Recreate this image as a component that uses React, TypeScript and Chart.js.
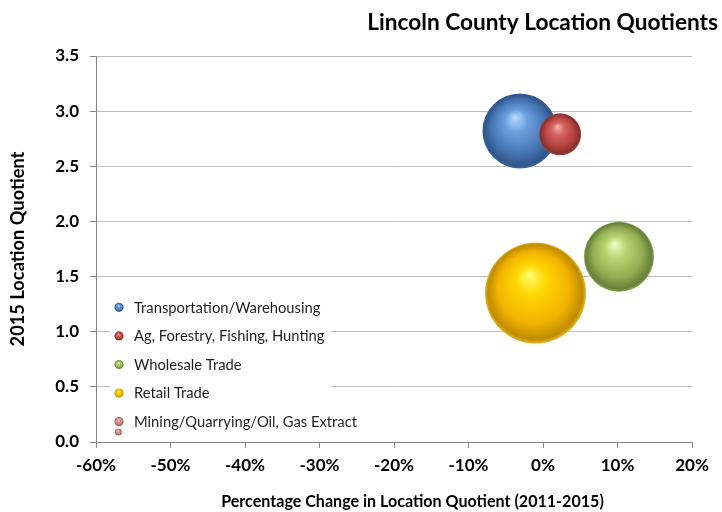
import React, { useEffect, useRef } from "react";
import { Chart, registerables } from "chart.js";

Chart.register(...registerables);

// ---------- data ----------
const SERIES_LABELS = [
  "Transportation/Warehousing",
  "Ag, Forestry, Fishing, Hunting",
  "Wholesale Trade",
  "Retail Trade",
  "Mining/Quarrying/Oil, Gas Extract",
];
const PCT_CHANGE = [-3.1, 2.3, 10.2, -1.0, -57.0]; // % change in LQ 2011-2015
const LQ_2015 = [2.82, 2.79, 1.68, 1.35, 0.09];
const EMPLOYMENT = [281, 88, 245, 510, 2.5]; // bubble size values

const X_MIN = -60;
const X_MAX = 20;
const X_STEP = 10;
const Y_MIN = 0;
const Y_MAX = 3.5;
const Y_STEP = 0.5;

const TITLE = "Lincoln County Location Quotients";
const X_TITLE = "Percentage Change in Location Quotient (2011-2015)";
const Y_TITLE = "2015 Location Quotient";

// ---------- styles ----------
const FONT = "Lato, 'Open Sans', 'DejaVu Sans', sans-serif";
const MAX_R = 50.5;
// highlight, light, base, dark, rim
const PALETTES = [
  ["#b7ddff", "#6ca0dc", "#4677b5", "#31568a", "#3d68a0"],
  ["#f9b4b0", "#d6635f", "#b4423f", "#86302d", "#a04845"],
  ["#eeffc8", "#b9d675", "#93ae52", "#66803a", "#8aa450"],
  ["#ffff70", "#ffd600", "#f2b400", "#c08c00", "#e8b428"],
  ["#f7d0cf", "#dca2a0", "#c47f7d", "#9a5a58", "#b87573"],
];

function sphere(ctx: CanvasRenderingContext2D, cx: number, cy: number, r: number, pal: string[]) {
  const rr = Math.max(r, 0.5);
  const g = ctx.createRadialGradient(cx - rr * 0.13, cy - rr * 0.37, 0, cx, cy, rr);
  g.addColorStop(0, pal[0]);
  g.addColorStop(0.3, pal[1]);
  g.addColorStop(0.7, pal[2]);
  g.addColorStop(0.94, pal[3]);
  g.addColorStop(1, pal[4]);
  return g;
}

function fitFont(ctx: CanvasRenderingContext2D, text: string, weight: string, width: number) {
  ctx.font = `${weight} 100px ${FONT}`;
  const w = ctx.measureText(text).width;
  return (100 * width) / w;
}

const decorPlugin = {
  id: "decor",
  beforeDatasetsDraw(chart: any) {
    const ctx: CanvasRenderingContext2D = chart.ctx;
    ctx.save();
    // legend box
    ctx.fillStyle = "#ffffff";
    ctx.fillRect(110, 291, 221, 137);
    const longest = SERIES_LABELS.reduce((a, b) => (a.length > b.length ? a : b));
    const size = fitFont(ctx, longest, "400", 223);
    ctx.font = `400 ${size}px ${FONT}`;
    ctx.textBaseline = "middle";
    ctx.textAlign = "left";
    chart.data.datasets.forEach((ds: any, i: number) => {
      const y = 307.3 + i * 28.6;
      ctx.fillStyle = sphere(ctx, 119, y, 4.6, PALETTES[i]);
      ctx.beginPath();
      ctx.arc(119, y, 4.6, 0, Math.PI * 2);
      ctx.fill();
      ctx.fillStyle = "#1e1e1e";
      ctx.fillText(ds.label, 134, y + 0.5);
    });
    ctx.restore();
  },
  afterDraw(chart: any) {
    const ctx: CanvasRenderingContext2D = chart.ctx;
    ctx.save();
    ctx.fillStyle = "#000000";
    // chart title
    let s = fitFont(ctx, TITLE, "700", 351);
    ctx.font = `700 ${s}px ${FONT}`;
    ctx.textAlign = "right";
    ctx.textBaseline = "alphabetic";
    ctx.fillText(TITLE, 718, 29.5);
    // x axis title
    s = fitFont(ctx, X_TITLE, "700", 383);
    ctx.font = `700 ${s}px ${FONT}`;
    ctx.textAlign = "center";
    ctx.fillText(X_TITLE, 412.5, 507);
    // y axis title
    s = fitFont(ctx, Y_TITLE, "700", 195);
    ctx.font = `700 ${s}px ${FONT}`;
    ctx.translate(24, chart.chartArea.top + (chart.chartArea.bottom - chart.chartArea.top) / 2);
    ctx.rotate(-Math.PI / 2);
    ctx.fillText(Y_TITLE, 0, 0);
    ctx.restore();
  },
};

export default function App() {
  const ref = useRef<HTMLCanvasElement | null>(null);

  useEffect(() => {
    if (!ref.current) return;
    const maxEmp = Math.max(...EMPLOYMENT);
    const datasets = SERIES_LABELS.map((label, i) => ({
      label,
      data: [
        {
          x: PCT_CHANGE[i],
          y: LQ_2015[i],
          r: MAX_R * Math.sqrt(EMPLOYMENT[i] / maxEmp),
        },
      ],
      order: i === 1 ? 0 : 1,
      borderWidth: 0,
      backgroundColor: (c: any) => {
        const chart = c.chart;
        if (!chart.chartArea || c.type !== "data" || !c.raw) return PALETTES[i][2];
        const cx = chart.scales.x.getPixelForValue(c.raw.x);
        const cy = chart.scales.y.getPixelForValue(c.raw.y);
        return sphere(chart.ctx, cx, cy, c.raw.r, PALETTES[i]);
      },
    }));

    const chart = new Chart(ref.current, {
      type: "bubble",
      data: { datasets },
      options: {
        responsive: false,
        animation: false,
        devicePixelRatio: 1,
        events: [],
        layout: { autoPadding: false, padding: { top: 56, right: 30, bottom: 0, left: 0 } },
        plugins: {
          legend: { display: false },
          title: { display: false },
          tooltip: { enabled: false },
        },
        scales: {
          x: {
            type: "linear",
            min: X_MIN,
            max: X_MAX,
            afterFit: (sc: any) => {
              sc.height = 70;
              sc.paddingLeft = 0;
              sc.paddingRight = 0;
            },
            ticks: {
              stepSize: X_STEP,
              color: "#000000",
              padding: 7,
              font: { family: FONT, size: 17, weight: "bold" },
              callback: (v: any) => `${Math.round(Number(v))}%`,
            },
            grid: {
              drawOnChartArea: false,
              drawTicks: true,
              tickLength: 6,
              tickColor: "#878787",
            },
            border: { color: "#878787", width: 1 },
          },
          y: {
            type: "linear",
            min: Y_MIN,
            max: Y_MAX,
            afterFit: (sc: any) => {
              sc.width = 96;
              sc.paddingTop = 0;
              sc.paddingBottom = 0;
            },
            ticks: {
              stepSize: Y_STEP,
              color: "#000000",
              padding: 11,
              font: { family: FONT, size: 17, weight: "bold" },
              callback: (v: any) => Number(v).toFixed(1),
            },
            grid: {
              color: "#bdbdbd",
              lineWidth: 1,
              drawTicks: true,
              tickLength: 6,
              tickColor: "#878787",
            },
            border: { color: "#878787", width: 1 },
          },
        },
      },
      plugins: [decorPlugin],
    });
    return () => chart.destroy();
  }, []);

  return (
    <div style={{ position: "fixed", left: 0, top: 0, width: 722, height: 512, background: "#ffffff" }}>
      <canvas ref={ref} width={722} height={512} style={{ display: "block" }} />
    </div>
  );
}
